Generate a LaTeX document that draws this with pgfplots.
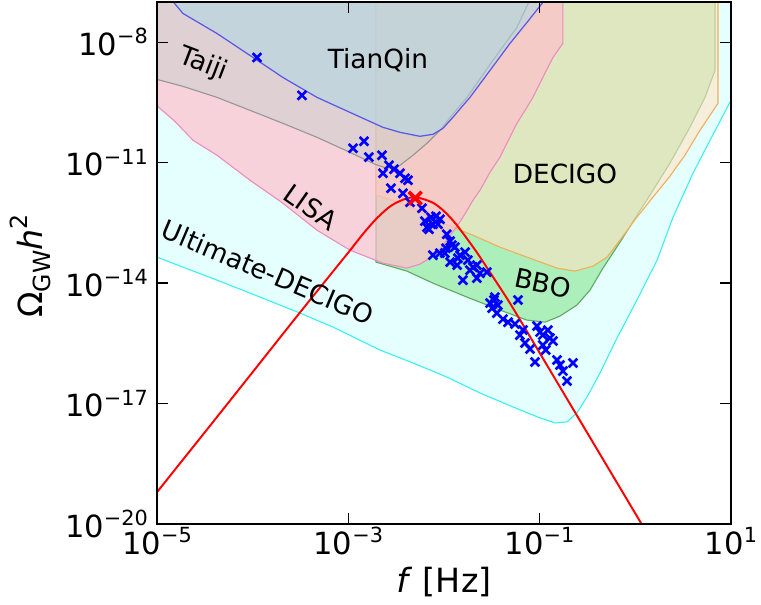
\documentclass[border=0pt]{standalone}
\usepackage{pgfplots}
\pgfplotsset{compat=1.18}
\usepackage{fontspec}
\setmainfont{DejaVu Sans}
\definecolor{tqfill}{RGB}{173,216,230}
\definecolor{tqline}{RGB}{90,90,230}
\definecolor{tjfill}{RGB}{188,208,201}
\definecolor{tjline}{RGB}{150,150,150}
\definecolor{lisafill}{RGB}{255,192,203}
\definecolor{lisaline}{RGB}{238,140,190}
\definecolor{decfill}{RGB}{255,228,196}
\definecolor{decline}{RGB}{240,175,90}
\definecolor{bbofill}{RGB}{144,230,150}
\definecolor{bboline}{RGB}{95,170,95}
\definecolor{udfill}{RGB}{0,255,255}
\definecolor{udline}{RGB}{60,240,240}
\newcommand{\tl}[1]{10\raisebox{0.38em}{\fontsize{15}{15}\selectfont #1}}
\begin{document}
\begin{tikzpicture}
\begin{axis}[
  scale only axis, width=413.3pt, height=375.8pt,
  xmode=log, ymode=log,
  xmin=1e-5, xmax=10, ymin=1e-20, ymax=1e-7,
  xtick={1e-5,1e-3,1e-1,10},
  xticklabels={\tl{−5},\tl{−3},\tl{−1},\tl{1}},
  ytick={1e-20,1e-17,1e-14,1e-11,1e-8},
  yticklabels={\tl{−20},\tl{−17},\tl{−14},\tl{−11},\tl{−8}},
  minor tick length=0pt,
  tick align=inside, major tick length=8pt,
  tick style={black, line width=0.8pt},
  axis line style={black, line width=1pt},
  tick label style={font=\fontsize{22}{26}\selectfont},
  xticklabel style={inner sep=0pt, yshift=-2.2pt, anchor=north},
  yticklabel style={inner sep=0pt, xshift=-6.3pt, anchor=east},
  every axis x label/.style={at={(axis description cs:0.5,-0.1322)}, anchor=base, font=\fontsize{24}{28}\selectfont},
  every axis y label/.style={at={(axis description cs:-0.1986,0.494)}, rotate=90, anchor=base, font=\fontsize{24}{28}\selectfont},
  xlabel={\textit{f} [Hz]},
  ylabel={Ω\raisebox{-0.22em}{\fontsize{17}{17}\selectfont GW}\textit{h}\raisebox{0.45em}{\fontsize{17}{17}\selectfont 2}},
  axis on top,
]
% Ultimate-DECIGO
\addplot[fill=udfill, fill opacity=0.1, draw=udline, line width=0.8pt] coordinates {
(1e-5,4.41e-14) (1.87e-5,2.48e-14) (4.24e-5,1.18e-14) (9.38e-5,5.61e-15) (3.13e-4,1.78e-15)
(6.92e-4,8.0e-16) (2.14e-3,2.14e-16) (4.74e-3,1.02e-16) (1.07e-2,4.56e-17) (2.38e-2,1.82e-17)
(5.26e-2,8.18e-18) (0.101,4.36e-18) (0.145,3.27e-18) (0.193,3.47e-18) (0.245,5.81e-18)
(0.313,1.45e-17) (0.428,5.74e-17) (0.628,3.79e-16) (1.04,3.76e-15) (1.69,3.71e-14)
(2.48,4.36e-13) (4.01,5.42e-12) (6.04,3.59e-11) (10,3.55e-10) (10,1e-6) (1e-5,1e-6)
};
% BBO
\addplot[fill=bbofill, fill opacity=0.65, draw=bboline, line width=0.8pt] coordinates {
(1.95e-3,1e-6) (1.95e-3,3.31e-14) (4.10e-3,1.98e-14) (7.67e-3,9.93e-15) (1.74e-2,4.46e-15)
(3.85e-2,2.12e-15) (7.37e-2,1.19e-15) (0.114,1.06e-15) (0.163,1.50e-15) (0.245,2.82e-15)
(0.336,6.65e-15) (0.459,2.35e-14) (0.692,1.04e-13) (0.993,4.11e-13) (1.42,1.54e-12)
(2.30,9.62e-12) (3.72,7.55e-11) (5.35,4.21e-10) (6.81,1.98e-9) (6.81,1e-6)
};
% DECIGO
\addplot[fill=decfill, fill opacity=0.6, draw=decline, line width=0.8pt] coordinates {
(1.95e-3,1e-6) (1.95e-3,1.54e-12) (4.10e-3,8.67e-13) (9.08e-3,3.27e-13) (2.01e-2,1.55e-13)
(3.85e-2,7.82e-14) (7.37e-2,4.41e-14) (0.152,2.35e-14) (0.234,1.98e-14) (0.361,2.63e-14)
(0.506,4.41e-14) (0.692,1.17e-13) (1.04,4.36e-13) (1.53,1.37e-12) (2.30,4.56e-12)
(3.30,1.52e-11) (4.74,6.35e-11) (7.31,2.99e-10) (7.31,1e-6)
};
% LISA
\addplot[fill=lisafill, fill opacity=0.7, draw=lisaline, line width=0.8pt] coordinates {
(1e-5,1e-6) (1e-5,2.6e-10) (1.54e-5,1.06e-10) (2.38e-5,3.59e-11) (4.24e-5,1.52e-11)
(9.38e-5,3.63e-12) (2.07e-4,9.73e-13) (4.70e-4,2.07e-13) (1.04e-3,6.58e-14) (2.30e-3,3.13e-14)
(4.10e-3,2.35e-14) (5.61e-3,2.95e-14) (7.14e-3,4.16e-14) (9.08e-3,6.97e-14) (1.07e-2,1.17e-13)
(1.37e-2,2.60e-13) (1.58e-2,4.36e-13) (2.01e-2,1.15e-12) (2.38e-2,2.05e-12) (3.03e-2,5.74e-12)
(3.85e-2,1.36e-11) (5.79e-2,9.51e-11) (7.37e-2,2.38e-10) (8.51e-2,4.21e-10) (0.108,1.32e-9)
(0.138,4.16e-9) (0.175,9.29e-9) (0.175,1e-6)
};
% Taiji
\addplot[fill=tjfill, fill opacity=0.4, draw=tjline, line width=0.8pt] coordinates {
(1e-5,1e-6) (1e-5,1.18e-9) (1.87e-5,7.91e-10) (4.24e-5,4.21e-10) (9.38e-5,2.00e-10)
(2.07e-4,9.51e-11) (4.70e-4,4.26e-11) (1.04e-3,1.80e-11) (1.90e-3,9.08e-12) (2.54e-3,7.21e-12)
(3.47e-3,8.57e-12) (4.74e-3,1.52e-11) (6.64e-3,3.02e-11) (9.08e-3,6.35e-11) (1.16e-2,1.34e-10)
(1.74e-2,4.21e-10) (3.25e-2,3.51e-9) (5.79e-2,2.32e-8) (8.32e-2,1.45e-7) (8.32e-2,1e-6)
};
% TianQin
\addplot[fill=tqfill, fill opacity=0.55, draw=tqline, line width=0.9pt] coordinates {
(1.30e-5,1.45e-7) (1.87e-5,5.18e-8) (4.24e-5,1.64e-8) (9.38e-5,4.67e-9) (2.07e-4,1.32e-9)
(4.70e-4,4.21e-10) (1.04e-3,1.78e-10) (2.30e-3,7.55e-11) (3.47e-3,5.67e-11) (5.61e-3,4.51e-11)
(7.67e-3,5.06e-11) (9.77e-3,7.13e-11) (1.24e-2,1.34e-10) (1.87e-2,4.21e-10) (3.03e-2,1.98e-9)
(4.90e-2,9.29e-9) (7.37e-2,3.09e-8) (0.108,9.73e-8) (0.128,1.72e-7) (0.128,1e-6) (1.30e-5,1e-6)
};
% scatter
\addplot[only marks, mark=x, mark size=4.4pt, color=blue, line width=1.9pt] coordinates {
(1.11e-4,4.16e-9) (3.28e-4,4.72e-10) (1.12e-3,2.27e-11) (1.46e-3,3.39e-11) (1.64e-3,1.36e-11)
(2.25e-3,1.52e-11) (2.66e-3,8.57e-12) (2.30e-3,5.42e-12) (3.00e-3,6.81e-12) (3.47e-3,5.42e-12)
(3.91e-3,4.07e-12) (4.21e-3,3.63e-12) (2.79e-3,2.30e-12) (3.72e-3,1.72e-12) (4.42e-3,1.03e-12)
(5.89e-3,7.30e-13) (6.32e-3,3.47e-13) (7.31e-3,4.36e-13) (8.24e-3,4.61e-13) (9.08e-3,3.88e-13)
(6.64e-3,2.45e-13) (7.67e-3,2.92e-13) (6.97e-3,2.19e-13) (8.65e-3,2.92e-13) (1.07e-2,1.64e-13)
(1.16e-2,1.10e-13) (1.30e-2,7.82e-14) (1.05e-2,7.38e-14) (7.67e-3,4.94e-14) (9.08e-3,5.55e-14)
(1.02e-2,5.55e-14) (1.47e-2,4.94e-14) (1.66e-2,5.87e-14) (1.78e-2,3.71e-14) (1.16e-2,3.31e-14)
(1.37e-2,2.79e-14) (2.01e-2,2.48e-14) (2.21e-2,2.79e-14) (2.38e-2,1.76e-14) (1.58e-2,1.18e-14)
(2.21e-2,1.32e-14) (2.81e-2,1.87e-14) (1.21e-2,8.77e-14) (1.40e-2,4.16e-14) (1.87e-2,2.09e-14)
(3.41e-2,4.46e-15) (3.03e-2,3.16e-15) (3.18e-2,2.37e-15) (3.58e-2,1.78e-15) (4.14e-2,1.26e-15)
(5.94e-2,3.76e-15) (5.52e-2,9.5e-16) (6.70e-2,6.73e-16) (9.38e-2,8.47e-16) (0.108,5.06e-16)
(0.128,4.26e-16) (7.03e-2,3.20e-16) (7.93e-2,2.27e-16) (0.108,2.85e-16) (0.138,3.59e-16)
(8.93e-2,1.08e-16) (0.152,1.21e-16) (0.175,6.43e-17) (0.223,1.02e-16) (0.193,3.62e-17)
(0.101,6.0e-16) (0.122,6.73e-16) (6.22e-2,5.06e-16) (0.116,2.14e-16) (0.163,9.08e-17)
(3.33e-2,3.76e-15) (3.66e-2,2.82e-15) (4.67e-2,1.06e-15)
};
% model curve
\addplot[red, line width=1.4pt, smooth, tension=0.5] coordinates {
(1e-5,6.17e-20) (3.16e-5,1.91e-18) (1e-4,6.03e-17) (3.16e-4,1.91e-15) (1e-3,5.75e-14)
(1.41e-3,1.62e-13) (2.0e-3,4.17e-13) (2.82e-3,8.51e-13) (3.98e-3,1.26e-12) (5.01e-3,1.36e-12)
(6.31e-3,1.20e-12) (7.94e-3,9.55e-13) (1e-2,6.17e-13) (1.26e-2,3.47e-13) (1.58e-2,1.74e-13)
(2.24e-2,5.5e-14) (3.16e-2,1.58e-14) (5.01e-2,2.88e-15) (0.1,1.82e-16) (0.316,1.82e-18)
(1,1.82e-20) (1.41,4.57e-21)
};
\addplot[only marks, mark=x, mark size=6.5pt, color=red, line width=2.6pt] coordinates {(5.0e-3,1.3e-12)};
% labels
\node[font=\fontsize{19}{22}\selectfont] at (axis cs:2.04e-3,3.51e-9) {TianQin};
\node[font=\fontsize{19}{22}\selectfont, rotate=-21] at (axis cs:3.03e-5,2.79e-9) {Taiji};
\node[font=\fontsize{19}{22}\selectfont] at (axis cs:0.184,5.12e-12) {DECIGO};
\node[font=\fontsize{19}{22}\selectfont, rotate=-12] at (axis cs:0.108,9.93e-15) {BBO};
\node[font=\fontsize{19}{22}\selectfont, rotate=-35] at (axis cs:4.07e-4,7.73e-13) {LISA};
\node[font=\fontsize{19}{22}\selectfont, rotate=-23] at (axis cs:1.45e-4,1.87e-14) {Ultimate-DECIGO};
\coordinate (bl) at (rel axis cs:-0.2735,-0.1552);
\coordinate (tr) at (rel axis cs:1.0523,1.0038);
\end{axis}
\pgfresetboundingbox
\path (bl) rectangle (tr);
\end{tikzpicture}
\end{document}
